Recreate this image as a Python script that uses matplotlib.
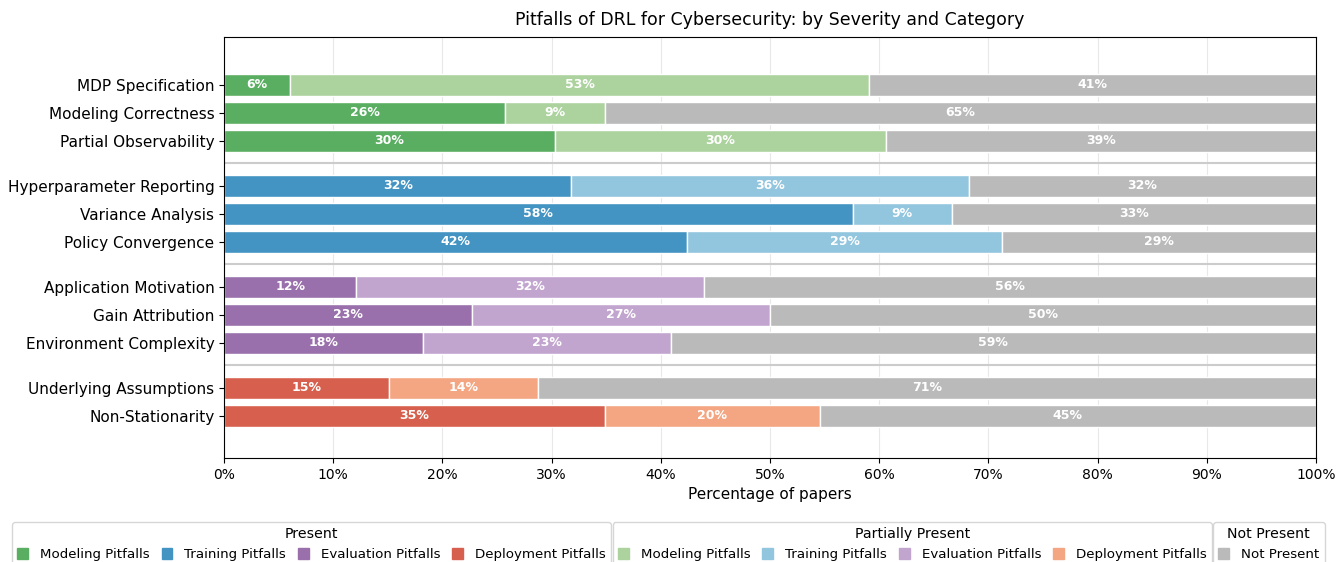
import numpy as np
import matplotlib
matplotlib.use("Agg")
import matplotlib.pyplot as plt
from matplotlib.patches import Patch

# number of papers reviewed
total_papers = 66

pitfalls = [
    "MDP Specification", "Modeling Correctness", "Partial Observability",
    "Hyperparameter Reporting", "Variance Analysis", "Policy Convergence",
    "Application Motivation", "Gain Attribution", "Environment Complexity",
    "Underlying Assumptions", "Non-Stationarity",
]
groups = [0, 0, 0, 1, 1, 1, 2, 2, 2, 3, 3]
present = [4, 17, 20, 21, 38, 28, 8, 15, 12, 10, 23]
partial = [35, 6, 20, 24, 6, 19, 21, 18, 15, 9, 13]
not_present = [27, 43, 26, 21, 22, 19, 37, 33, 39, 47, 30]

categories = ["Modeling Pitfalls", "Training Pitfalls", "Evaluation Pitfalls", "Deployment Pitfalls"]
dark_colors = ["#5aae61", "#4393c3", "#9970ab", "#d6604d"]
light_colors = ["#acd39e", "#92c5de", "#c2a5cf", "#f4a582"]
gray = "#bababa"

present_pct = np.array(present) / total_papers * 100
partial_pct = np.array(partial) / total_papers * 100
not_pct = np.array(not_present) / total_papers * 100

# y positions with a gap between groups
gap = 0.6
ypos = np.array([i + g * gap for i, g in enumerate(groups)])

fig = plt.figure(figsize=(13.38, 5.62), dpi=100)
ax = fig.add_axes([0.1674, 0.185, 0.8162, 0.749])

ax.set_axisbelow(True)
ax.grid(axis="x", color="#e8e8e8", linewidth=0.8)

for i in range(len(pitfalls)):
    g = groups[i]
    segs = [(present_pct[i], dark_colors[g]), (partial_pct[i], light_colors[g]), (not_pct[i], gray)]
    left = 0
    for w, c in segs:
        ax.barh(ypos[i], w, left=left, height=0.8, color=c, edgecolor="white", linewidth=1)
        ax.text(left + w / 2, ypos[i], f"{w:.0f}%", ha="center", va="center",
                color="white", fontweight="bold", fontsize=9)
        left += w

# separators between groups
for g in range(1, 4):
    last = ypos[np.array(groups) == g - 1].max()
    first = ypos[np.array(groups) == g].min()
    ax.axhline((last + first) / 2, color="#cccccc", linewidth=1.5)

ax.set_yticks(ypos)
ax.set_yticklabels(pitfalls, fontsize=11)
ax.set_ylim(13.3, -1.7)
ax.set_xlim(0, 100)
ax.set_xticks(np.arange(0, 101, 10))
ax.set_xticklabels([f"{v}%" for v in range(0, 101, 10)], fontsize=10)
ax.set_xlabel("Percentage of papers", fontsize=11)
ax.set_title("Pitfalls of DRL for Cybersecurity: by Severity and Category", fontsize=12.5, pad=9)

leg_kw = dict(fontsize=9.6, title_fontsize=10.2, handlelength=0.8, handleheight=0.8,
              handletextpad=0.9, columnspacing=0.9, loc="upper left", borderaxespad=0)
h1 = [Patch(color=c, label=l) for c, l in zip(dark_colors, categories)]
h2 = [Patch(color=c, label=l) for c, l in zip(light_colors, categories)]
h3 = [Patch(color=gray, label="Not Present")]
l1 = fig.legend(handles=h1, title="Present", ncol=4, bbox_to_anchor=(0.009, 0.071), **leg_kw)
l2 = fig.legend(handles=h2, title="Partially Present", ncol=4, bbox_to_anchor=(0.458, 0.071), **leg_kw)
l3 = fig.legend(handles=h3, title="Not Present", ncol=1, bbox_to_anchor=(0.9066, 0.071), **leg_kw)

fig.savefig("out.png", dpi=100)
